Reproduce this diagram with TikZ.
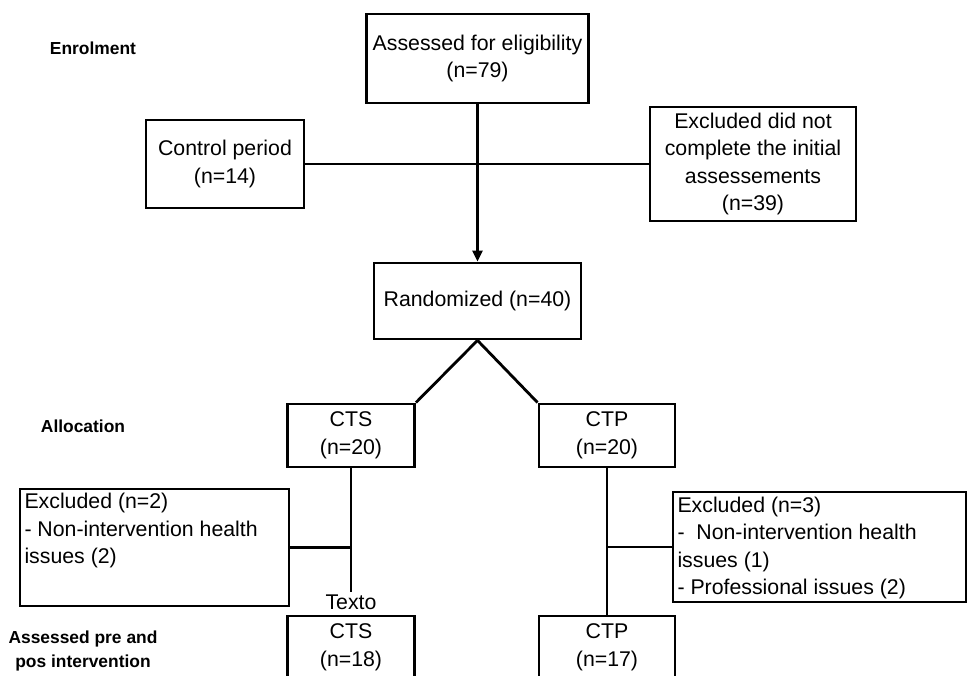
\documentclass[tikz,border=0pt]{standalone}
\usepackage{fontspec}
\setmainfont{Liberation Sans}
\usetikzlibrary{arrows.meta}
\begin{document}
\begin{tikzpicture}[x=1pt,y=-1pt,
  box/.style={draw,line width=2.8pt,align=center,inner sep=2pt,font=\fontsize{21.3}{27.5}\selectfont},
  phase/.style={font=\fontsize{17.4}{23.5}\selectfont\bfseries,align=center},
  link/.style={line width=2.8pt}]
  \useasboundingbox (0,0) rectangle (967,676);
  % stage labels
  \node[phase] (enrol) at (93,48) {Enrolment};
  \node[phase] (alloc) at (83,426) {Allocation};
  \node[phase] (assess) at (83,651) {Assessed pre and\\pos intervention};
  % enrolment
  \node[box,minimum width=222pt,minimum height=89pt] (elig) at (477.5,58.5) {Assessed for eligibility\\(n=79)};
  \node[box,minimum width=158pt,minimum height=88pt] (ctrl) at (225,164) {Control period\\(n=14)};
  \node[box,minimum width=206pt,minimum height=114pt] (excl) at (753,164) {Excluded did not\\complete the initial\\assessements\\(n=39)};
  \node[box,minimum width=207pt,minimum height=76pt] (rand) at (477.5,301) {Randomized (n=40)};
  % allocation
  \node[box,minimum width=127pt,minimum height=63pt] (cts) at (351,435.5) {CTS\\(n=20)};
  \node[box,minimum width=136pt,minimum height=63pt] (ctp) at (607,435.5) {CTP\\(n=20)};
  \node[box,minimum width=269pt,minimum height=117pt,inner sep=3pt] (exl) at (154.5,547.5)
    {\begin{minipage}[c][108pt][t]{260pt}\raggedright
      Excluded (n=2)\\- Non-intervention health\\issues (2)\end{minipage}};
  \node[box,minimum width=293pt,minimum height=110pt,inner sep=3pt] (exr) at (819.5,547)
    {\begin{minipage}[c][102pt][t]{284pt}\raggedright
      \vspace*{1pt}Excluded (n=3)\\-\ \ Non-intervention health\\issues (1)\\- Professional issues (2)\end{minipage}};
  \node[font=\fontsize{21.3}{27.5}\selectfont,inner sep=2pt] (texto) at (351,602) {Texto};
  % assessed
  \node[box,minimum width=127pt,minimum height=63pt] (cts2) at (351,647.5) {CTS\\(n=18)};
  \node[box,minimum width=136pt,minimum height=63pt] (ctp2) at (607,647.5) {CTP\\(n=17)};
  % connectors
  \draw[link,-{Triangle[length=11pt,width=10pt]}] (elig) -- (rand);
  \draw[link] (ctrl) -- (excl);
  \draw[link] (rand.south) -- (cts.north east);
  \draw[link] (rand.south) -- (ctp.north west);
  \draw[link] (cts) -- (texto);
  \draw[link] (exl.east) -- (exl.east -| cts.south);
  \draw[link] (ctp) -- (ctp2);
  \draw[link] (exr.west) -- (exr.west -| ctp.south);
\end{tikzpicture}
\end{document}
